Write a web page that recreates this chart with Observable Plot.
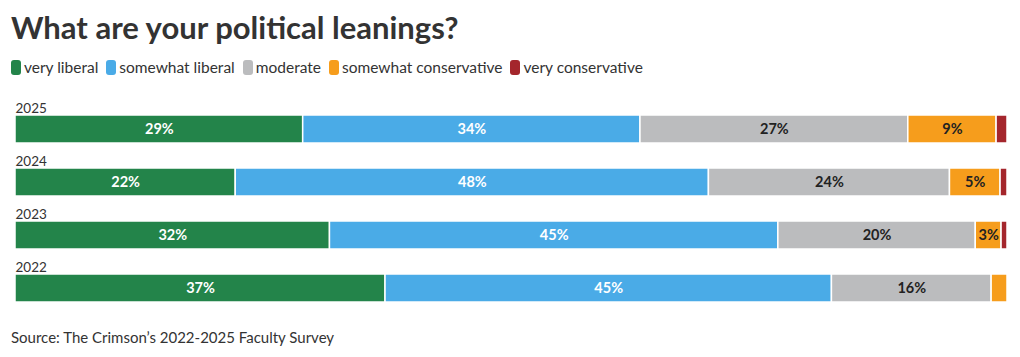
<!DOCTYPE html>
<html>
<head>
<meta charset="utf-8">
<script src="https://cdn.jsdelivr.net/npm/d3@7"></script>
<script src="https://cdn.jsdelivr.net/npm/@observablehq/plot@0.6"></script>
<style>
  body { margin: 0; background: #fff; font-family: Lato, "Open Sans", sans-serif; color: #333; }
  #wrap { width: 1020px; height: 357px; position: relative; overflow: hidden; }
  #title { position: absolute; left: 11px; top: 8px; font-size: 31px; font-weight: 700; color: #333; white-space: nowrap; }
  #legend { position: absolute; left: 11px; top: 58px; font-size: 15.5px; color: #333; display: flex; gap: 8px; white-space: nowrap; }
  .item { display: flex; align-items: center; gap: 3px; }
  .sw { width: 10px; height: 15px; border-radius: 3px; display: inline-block; }
  #chart { position: absolute; left: 0; top: 94px; line-height: 0; }
  #source { position: absolute; left: 11px; top: 328px; font-size: 15px; color: #333; white-space: nowrap; }
</style>
</head>
<body>
<div id="wrap">
  <div id="title">What are your political leanings?</div>
  <div id="legend"></div>
  <div id="chart"></div>
  <div id="source">Source: The Crimson’s 2022-2025 Faculty Survey</div>
</div>
<script>
const years = ["2025", "2024", "2023", "2022"];
const categories = ["very liberal", "somewhat liberal", "moderate", "somewhat conservative", "very conservative"];
const colors = ["#23844a", "#4aabe7", "#bbbcbe", "#f69d1c", "#a4262c"];
const labelColors = ["#ffffff", "#ffffff", "#222222", "#222222", "#ffffff"];

const veryLiberal = [29, 22.2, 31.7, 37.3];
const somewhatLiberal = [34, 47.7, 45.2, 45];
const moderate = [27, 24.3, 19.9, 16.1];
const somewhatConservative = [8.9, 5.1, 2.6, 1.6];
const veryConservative = [1.1, 0.7, 0.6, 0];

const series = [veryLiberal, somewhatLiberal, moderate, somewhatConservative, veryConservative];
const data = [];
categories.forEach((cat, ci) => {
  years.forEach((year, yi) => {
    data.push({ year, cat, ci, value: series[ci][yi] });
  });
});

// Legend
const legend = document.getElementById("legend");
categories.forEach((c, i) => {
  const it = document.createElement("div");
  it.className = "item";
  it.innerHTML = `<span class="sw" style="background:${colors[i]}"></span><span>${c}</span>`;
  legend.appendChild(it);
});

const chart = Plot.plot({
  width: 1020,
  height: 220,
  marginLeft: 15,
  marginRight: 13,
  marginTop: 20,
  marginBottom: 10.9,
  x: { domain: [0, 100], axis: null },
  y: { domain: years, axis: null, paddingInner: 0.479, paddingOuter: 0 },
  color: { domain: categories, range: colors },
  style: { fontFamily: "Lato, 'Open Sans', sans-serif" },
  marks: [
    Plot.barX(data, Plot.stackX({
      x: "value", y: "year", z: "cat", fill: "cat", order: null,
      stroke: "white", strokeWidth: 1.5
    })),
    Plot.text(data, Plot.stackX({
      x: "value", y: "year", z: "cat", order: null,
      text: d => d.value >= 2 ? Math.round(d.value) + "%" : "",
      fill: d => labelColors[d.ci],
      fontSize: 14.5, fontWeight: 700
    })),
    Plot.text(years, {
      y: d => d, text: d => d, frameAnchor: "left", textAnchor: "start",
      dy: -21, fontSize: 13.5, fill: "#333"
    })
  ]
});
document.getElementById("chart").appendChild(chart);
</script>
</body>
</html>
